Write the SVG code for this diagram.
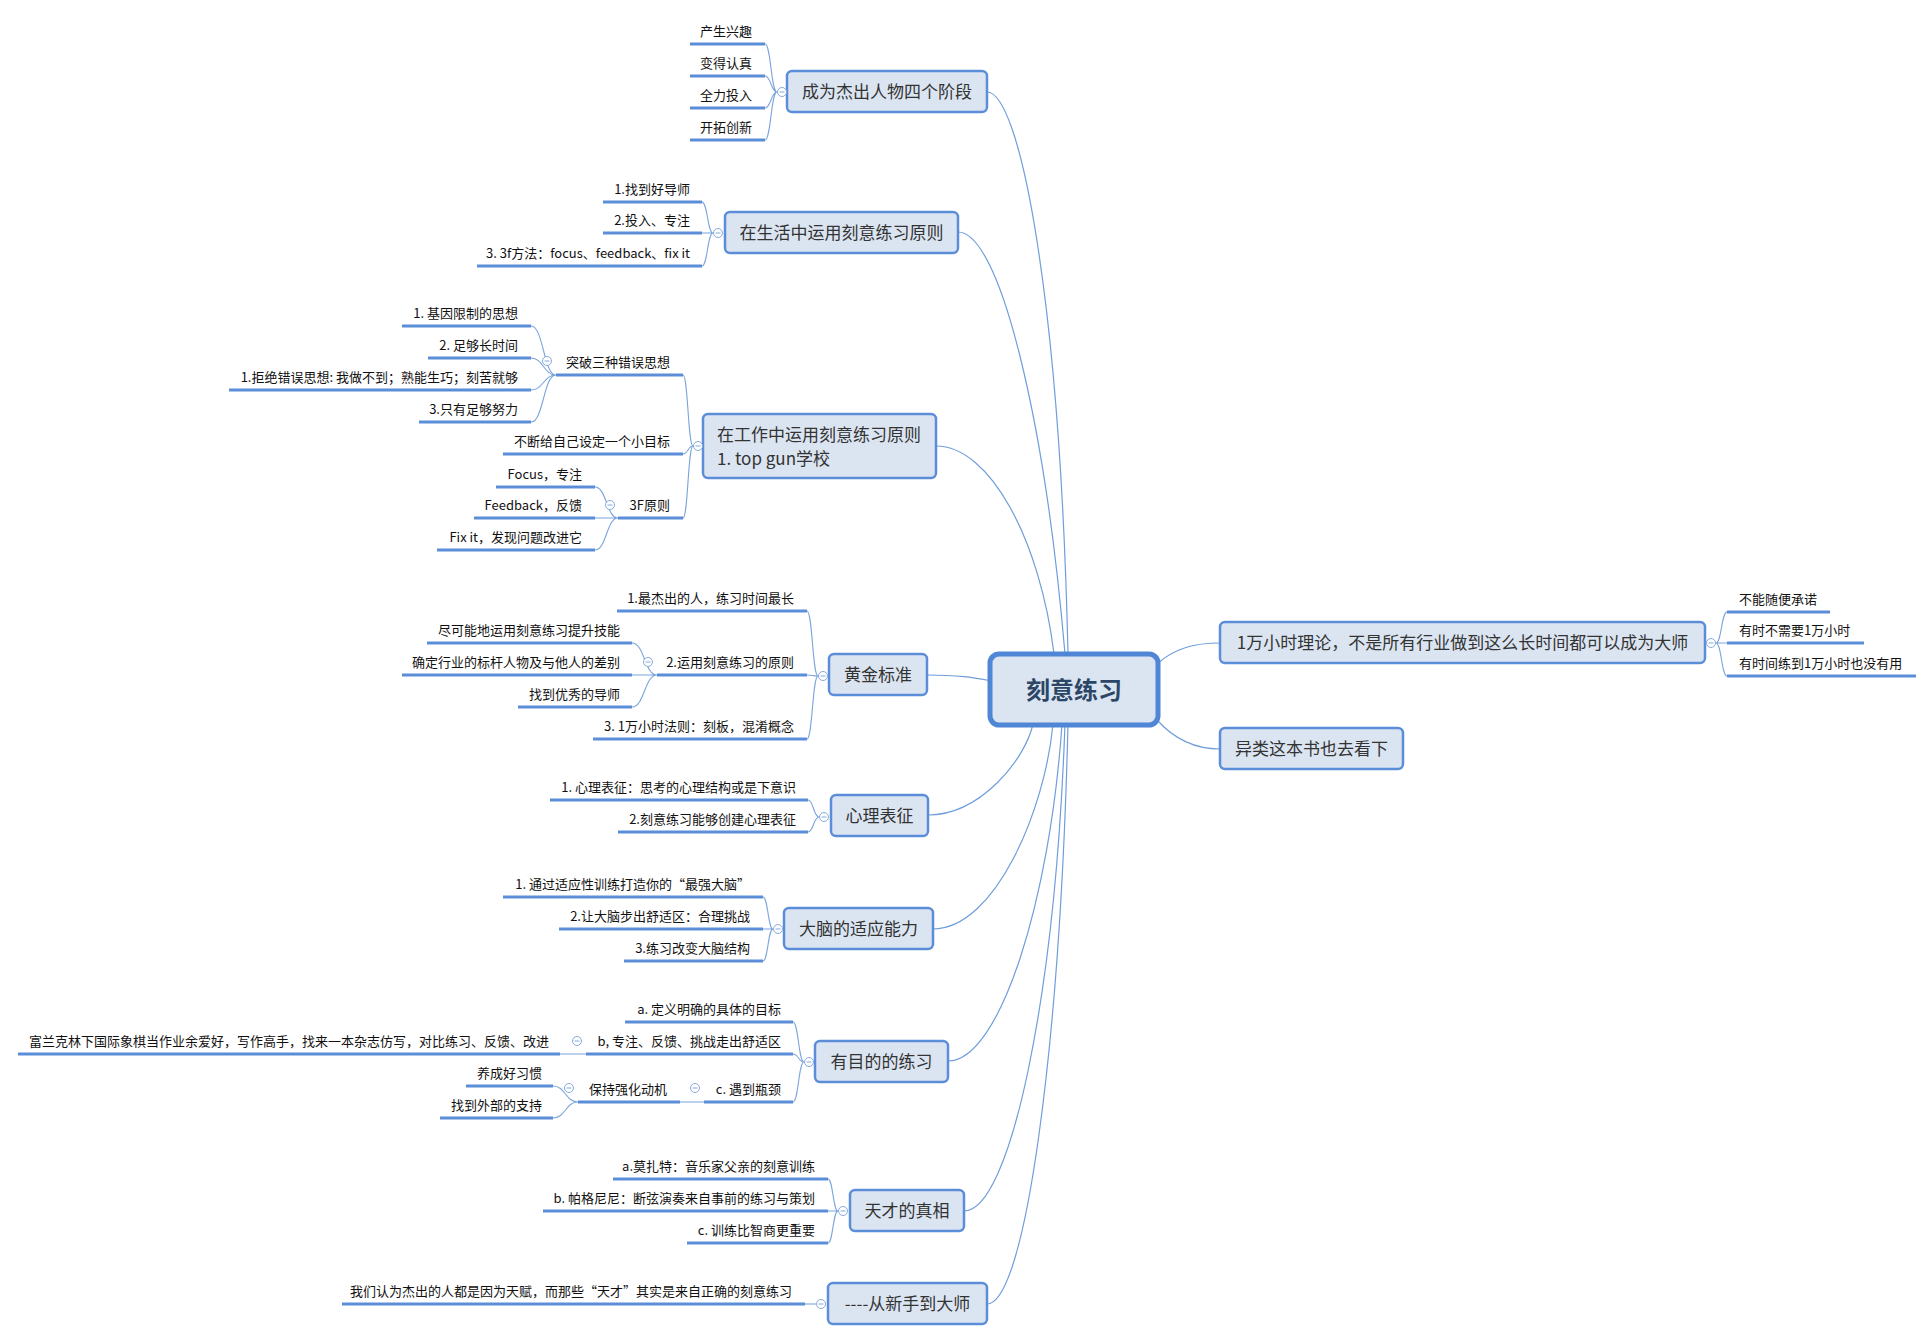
<svg xmlns="http://www.w3.org/2000/svg" xmlns:xlink="http://www.w3.org/1999/xlink" width="1929" height="1341" viewBox="0 0 1929 1341">
<style>
.box{fill:#dbe5f2;stroke:#5b8dd9;stroke-width:2.5}
.core{fill:#dbe5f2;stroke:#4f86d6;stroke-width:5}
.bt{font-family:"Noto Sans CJK SC","Liberation Sans",sans-serif;font-size:17px;fill:#333}
.ct{font-family:"Noto Sans CJK SC","Liberation Sans",sans-serif;font-size:24px;font-weight:bold;fill:#2c4766}
.lt{font-family:"Noto Sans CJK SC","Liberation Sans",sans-serif;font-size:13px;fill:#111}
.e{text-anchor:end}
.m{text-anchor:middle}
.ul{stroke:#5b8dd9;stroke-width:3;fill:none}
.cn{fill:none;stroke:#6f9edb;stroke-width:1.2}
.br{fill:none;stroke:#7aa4dc;stroke-width:1.1}
</style>
<defs>
<g id="btn"><circle r="4.5" fill="#fff" stroke="#86a9dc" stroke-width="1"/><line x1="-2.5" y1="0" x2="2.5" y2="0" stroke="#86a9dc" stroke-width="1"/></g>
</defs>
<rect width="1929" height="1341" fill="#fff"/>

<g id="connectors">
<path class="cn" d="M987,92 C1020,92 1060,300 1068,654"/>
<path class="cn" d="M958,232 C1000,232 1045,420 1065,654"/>
<path class="cn" d="M936,446 C990,446 1040,540 1054,654"/>
<path class="cn" d="M927,675 C960,675 975,678 992,681"/>
<path class="cn" d="M928,815 C980,815 1025,760 1033,724"/>
<path class="cn" d="M933,929 C995,929 1045,810 1053,724"/>
<path class="cn" d="M948,1061 C1000,1061 1050,900 1062,724"/>
<path class="cn" d="M964,1211 C1010,1211 1055,1000 1065,724"/>
<path class="cn" d="M987,1304 C1025,1304 1060,1050 1068,724"/>
<path class="cn" d="M1157,664 C1175,648 1195,643 1220,643"/>
<path class="cn" d="M1157,720 C1175,740 1195,749 1220,749"/>
<!-- brackets -->
<path class="br" d="M777,92C771,92 771,44 765,44M777,92C771,92 771,76 765,76M777,92C771,92 771,108 765,108M777,92C771,92 771,140 765,140"/>
<path class="br" d="M713,233C707.5,233 707.5,202 702,202M713,233L702,233M713,233C707.5,233 707.5,266 702,266"/>
<path class="br" d="M693,446C688,446 688,375 683,375M693,446C688,446 688,454 683,454M693,446C688,446 688,518 683,518"/>
<path class="br" d="M556,375C543.5,375 543.5,326 531,326M556,375C543.5,375 543.5,358 531,358M556,375C543.5,375 543.5,390 531,390M556,375C543.5,375 543.5,422 531,422"/>
<path class="br" d="M618,518C606.5,518 606.5,487 595,487M618,518L595,518M618,518C606.5,518 606.5,550 595,550"/>
<path class="br" d="M818,676C812.5,676 812.5,611 807,611M818,676C812.5,676 812.5,675 807,675M818,676C812.5,676 812.5,739 807,739"/>
<path class="br" d="M657,675C644.5,675 644.5,643 632,643M657,675L632,675M657,675C644.5,675 644.5,707 632,707"/>
<path class="br" d="M819,817C813.5,817 813.5,800 808,800M819,817C813.5,817 813.5,832 808,832"/>
<path class="br" d="M773,929C768,929 768,897 763,897M773,929L763,929M773,929C768,929 768,961 763,961"/>
<path class="br" d="M804,1062C798.5,1062 798.5,1022 793,1022M804,1062C798.5,1062 798.5,1054 793,1054M804,1062C798.5,1062 798.5,1102 793,1102"/>
<path class="br" d="M586,1054L560,1054M704,1102L680,1102"/>
<path class="br" d="M578,1102C565.5,1102 565.5,1086 553,1086M578,1102C565.5,1102 565.5,1118 553,1118"/>
<path class="br" d="M838,1211C833,1211 833,1179 828,1179M838,1211L828,1211M838,1211C833,1211 833,1243 828,1243"/>
<path class="br" d="M816,1304L805,1304"/>
<path class="br" d="M1716,643C1721.5,643 1721.5,612 1727,612M1716,643L1727,643M1716,643C1721.5,643 1721.5,676 1727,676"/>
</g>

<g id="center">
<rect class="core" x="990" y="654" width="168" height="71" rx="9"/>
<text class="ct m" x="1074" y="699">刻意练习</text>
</g>

<g id="n-stages">
<rect class="box" x="787" y="71" width="200" height="41" rx="5"/>
<text class="bt m" x="887" y="98">成为杰出人物四个阶段</text>
<use xlink:href="#btn" href="#btn" x="782" y="92"/>
<path class="ul" d="M690,44H765M690,76H765M690,108H765M690,140H765"/>
<text class="lt e" x="752" y="36">产生兴趣</text>
<text class="lt e" x="752" y="68">变得认真</text>
<text class="lt e" x="752" y="100">全力投入</text>
<text class="lt e" x="752" y="132">开拓创新</text>
</g>

<g id="n-life">
<rect class="box" x="725" y="212" width="233" height="41" rx="5"/>
<text class="bt m" x="841.5" y="239">在生活中运用刻意练习原则</text>
<use xlink:href="#btn" href="#btn" x="718" y="233"/>
<path class="ul" d="M603,202H702M603,233H702M477,266H702"/>
<text class="lt e" x="690" y="194">1.找到好导师</text>
<text class="lt e" x="690" y="225">2.投入、专注</text>
<text class="lt e" x="690" y="258">3. 3f方法：focus、feedback、fix it</text>
</g>

<g id="n-work">
<rect class="box" x="703" y="414" width="233" height="64" rx="5"/>
<text class="bt" x="717" y="441">在工作中运用刻意练习原则</text>
<text class="bt" x="717" y="465">1. top gun学校</text>
<use xlink:href="#btn" href="#btn" x="698" y="446"/>
<path class="ul" d="M556,375H683M503,454H683M618,518H683"/>
<text class="lt e" x="670" y="367">突破三种错误思想</text>
<text class="lt e" x="670" y="446">不断给自己设定一个小目标</text>
<text class="lt e" x="670" y="510">3F原则</text>
<use xlink:href="#btn" href="#btn" x="547" y="361"/>
<path class="ul" d="M402,326H531M428,358H531M229,390H531M419,422H531"/>
<text class="lt e" x="518" y="318">1. 基因限制的思想</text>
<text class="lt e" x="518" y="350">2. 足够长时间</text>
<text class="lt e" x="518" y="382">1.拒绝错误思想: 我做不到；熟能生巧；刻苦就够</text>
<text class="lt e" x="518" y="414">3.只有足够努力</text>
<use xlink:href="#btn" href="#btn" x="610" y="505"/>
<path class="ul" d="M496,487H595M474,518H595M437,550H595"/>
<text class="lt e" x="582" y="479">Focus，专注</text>
<text class="lt e" x="582" y="510">Feedback，反馈</text>
<text class="lt e" x="582" y="542">Fix it，发现问题改进它</text>
</g>

<g id="n-gold">
<rect class="box" x="829" y="654" width="98" height="41" rx="5"/>
<text class="bt m" x="878" y="681">黄金标准</text>
<use xlink:href="#btn" href="#btn" x="823" y="676"/>
<path class="ul" d="M617,611H807M657,675H807M593,739H807"/>
<text class="lt e" x="794" y="603">1.最杰出的人，练习时间最长</text>
<text class="lt e" x="794" y="667">2.运用刻意练习的原则</text>
<text class="lt e" x="794" y="731">3. 1万小时法则：刻板，混淆概念</text>
<use xlink:href="#btn" href="#btn" x="648" y="662"/>
<path class="ul" d="M427,643H632M402,675H632M518,707H632"/>
<text class="lt e" x="620" y="635">尽可能地运用刻意练习提升技能</text>
<text class="lt e" x="620" y="667">确定行业的标杆人物及与他人的差别</text>
<text class="lt e" x="620" y="699">找到优秀的导师</text>
</g>

<g id="n-mental">
<rect class="box" x="831" y="795" width="97" height="41" rx="5"/>
<text class="bt m" x="879.5" y="822">心理表征</text>
<use xlink:href="#btn" href="#btn" x="824" y="817"/>
<path class="ul" d="M550,800H808M618,832H808"/>
<text class="lt e" x="796" y="792">1. 心理表征：思考的心理结构或是下意识</text>
<text class="lt e" x="796" y="824">2.刻意练习能够创建心理表征</text>
</g>

<g id="n-brain">
<rect class="box" x="784" y="908" width="149" height="41" rx="5"/>
<text class="bt m" x="858.5" y="935">大脑的适应能力</text>
<use xlink:href="#btn" href="#btn" x="778" y="929"/>
<path class="ul" d="M503,897H763M559,929H763M624,961H763"/>
<text class="lt e" x="750" y="889">1. 通过适应性训练打造你的“最强大脑”</text>
<text class="lt e" x="750" y="921">2.让大脑步出舒适区：合理挑战</text>
<text class="lt e" x="750" y="953">3.练习改变大脑结构</text>
</g>

<g id="n-purpose">
<rect class="box" x="815" y="1041" width="133" height="41" rx="5"/>
<text class="bt m" x="881.5" y="1068">有目的的练习</text>
<use xlink:href="#btn" href="#btn" x="809" y="1062"/>
<path class="ul" d="M625,1022H793M586,1054H793M704,1102H793"/>
<text class="lt e" x="781" y="1014">a. 定义明确的具体的目标</text>
<text class="lt e" x="781" y="1046">b, 专注、反馈、挑战走出舒适区</text>
<text class="lt e" x="781" y="1094">c. 遇到瓶颈</text>
<use xlink:href="#btn" href="#btn" x="577" y="1041"/>
<path class="ul" d="M18,1054H560"/>
<text class="lt e" x="549" y="1046">富兰克林下国际象棋当作业余爱好，写作高手，找来一本杂志仿写，对比练习、反馈、改进</text>
<use xlink:href="#btn" href="#btn" x="695" y="1088"/>
<path class="ul" d="M578,1102H680"/>
<text class="lt e" x="667" y="1094">保持强化动机</text>
<use xlink:href="#btn" href="#btn" x="569" y="1088"/>
<path class="ul" d="M466,1086H553M440,1118H553"/>
<text class="lt e" x="542" y="1078">养成好习惯</text>
<text class="lt e" x="542" y="1110">找到外部的支持</text>
</g>

<g id="n-genius">
<rect class="box" x="850" y="1190" width="114" height="41" rx="5"/>
<text class="bt m" x="907" y="1217">天才的真相</text>
<use xlink:href="#btn" href="#btn" x="843" y="1211"/>
<path class="ul" d="M613,1179H828M543,1211H828M687,1243H828"/>
<text class="lt e" x="815" y="1171">a.莫扎特：音乐家父亲的刻意训练</text>
<text class="lt e" x="815" y="1203">b. 帕格尼尼：断弦演奏来自事前的练习与策划</text>
<text class="lt e" x="815" y="1235">c. 训练比智商更重要</text>
</g>

<g id="n-novice">
<rect class="box" x="828" y="1283" width="159" height="41" rx="5"/>
<text class="bt m" x="907.5" y="1310">----从新手到大师</text>
<use xlink:href="#btn" href="#btn" x="821" y="1304"/>
<path class="ul" d="M342,1304H805"/>
<text class="lt e" x="792" y="1296">我们认为杰出的人都是因为天赋，而那些“天才”其实是来自正确的刻意练习</text>
</g>

<g id="n-10000">
<rect class="box" x="1220" y="622" width="485" height="41" rx="5"/>
<text class="bt m" x="1462.5" y="649">1万小时理论，不是所有行业做到这么长时间都可以成为大师</text>
<use xlink:href="#btn" href="#btn" x="1711" y="643"/>
<path class="ul" d="M1727,612H1830M1727,643H1864M1727,676H1916"/>
<text class="lt" x="1739" y="604">不能随便承诺</text>
<text class="lt" x="1739" y="635">有时不需要1万小时</text>
<text class="lt" x="1739" y="668">有时间练到1万小时也没有用</text>
</g>

<g id="n-outliers">
<rect class="box" x="1220" y="728" width="183" height="41" rx="5"/>
<text class="bt m" x="1311.5" y="755">异类这本书也去看下</text>
</g>
</svg>
